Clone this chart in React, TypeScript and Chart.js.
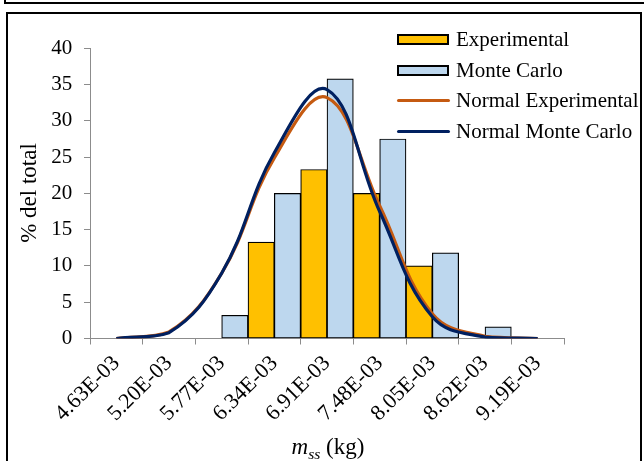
import React, { useEffect, useRef } from 'react';
import { Chart, registerables } from 'chart.js';

Chart.register(...registerables);

const categories = ['4.63E-03', '5.20E-03', '5.77E-03', '6.34E-03', '6.91E-03', '7.48E-03', '8.05E-03', '8.62E-03', '9.19E-03'];
const experimental = [0, 0, 0, 13.3, 23.3, 20, 10, 0, 0];
const monteCarlo = [0, 0, 3.2, 20, 35.8, 27.5, 11.8, 1.6, 0];
const normalExperimental = [0, 0.9, 9.0, 24.9, 33.2, 18.3, 3.4, 0.3, 0];
const normalMonteCarlo = [0, 0.8, 9.0, 25.6, 34.3, 17.5, 3.0, 0.2, 0];
const yMin = 0;
const yMax = 40;
const yStep = 5;

const legendItems = [
  { label: 'Experimental', kind: 'box', color: '#FFC000' },
  { label: 'Monte Carlo', kind: 'box', color: '#BDD7EE' },
  { label: 'Normal Experimental', kind: 'line', color: '#C55A11' },
  { label: 'Normal Monte Carlo', kind: 'line', color: '#002060' },
];

const FONT = '"Liberation Serif", "Times New Roman", serif';

export default function App() {
  const canvasRef = useRef<HTMLCanvasElement | null>(null);

  useEffect(() => {
    document.body.style.margin = '0';
    const canvas = canvasRef.current;
    if (!canvas) return;
    const chart = new Chart(canvas, {
      type: 'bar',
      data: {
        labels: categories,
        datasets: [
          {
            type: 'line',
            label: 'Normal Monte Carlo',
            data: normalMonteCarlo,
            borderColor: '#002060',
            borderWidth: 3.2,
            pointRadius: 0,
            tension: 0.4,
            fill: false,
            order: 0,
          } as any,
          {
            type: 'line',
            label: 'Normal Experimental',
            data: normalExperimental,
            borderColor: '#C55A11',
            borderWidth: 3.2,
            pointRadius: 0,
            tension: 0.4,
            fill: false,
            order: 1,
          } as any,
          {
            type: 'bar',
            label: 'Experimental',
            data: experimental,
            backgroundColor: '#FFC000',
            borderColor: '#000000',
            borderWidth: 1.2,
            borderSkipped: false,
            barPercentage: 1,
            categoryPercentage: 1,
            order: 2,
          } as any,
          {
            type: 'bar',
            label: 'Monte Carlo',
            data: monteCarlo,
            backgroundColor: '#BDD7EE',
            borderColor: '#000000',
            borderWidth: 1.2,
            borderSkipped: false,
            barPercentage: 1,
            categoryPercentage: 1,
            order: 2,
          } as any,
        ],
      },
      options: {
        responsive: false,
        animation: false,
        events: [],
        layout: { padding: { left: 0, right: 80, top: 48.3, bottom: 0 } },
        plugins: {
          legend: { display: false },
          tooltip: { enabled: false },
          title: { display: false },
        },
        scales: {
          x: {
            offset: true,
            grid: {
              offset: true,
              drawOnChartArea: false,
              drawTicks: true,
              tickLength: 6,
              color: '#8c8c8c',
            },
            border: { display: true, color: '#8c8c8c', width: 1 },
            ticks: {
              color: '#000',
              font: { family: FONT, size: 22 },
              maxRotation: 45,
              minRotation: 45,
              autoSkip: false,
              padding: 6,
            },
            afterFit: (s: any) => {
              s.height = 122.5;
            },
          },
          y: {
            min: yMin,
            max: yMax,
            grid: {
              drawOnChartArea: false,
              drawTicks: true,
              tickLength: 6,
              color: '#8c8c8c',
            },
            border: { display: true, color: '#8c8c8c', width: 1 },
            ticks: {
              stepSize: yStep,
              color: '#000',
              font: { family: FONT, size: 21 },
              padding: 11.7,
            },
            afterFit: (s: any) => {
              s.width = 90;
            },
          },
        },
      },
    });
    return () => {
      chart.destroy();
    };
  }, []);

  const rowBaselines = [46.7, 77.2, 107.7, 138.2];

  return (
    <div style={{ position: 'relative', width: 644, height: 461, overflow: 'hidden', background: '#fff', fontFamily: FONT }}>
      <canvas ref={canvasRef} width={644} height={461} style={{ position: 'absolute', left: 0, top: 0, width: 644, height: 461 }} />
      <div style={{ position: 'absolute', left: 4, top: -10, width: 660, height: 14, border: '2px solid #000', boxSizing: 'border-box', pointerEvents: 'none' }} />
      <div style={{ position: 'absolute', left: 6, top: 12, width: 636, height: 480, border: '2px solid #000', boxSizing: 'border-box', pointerEvents: 'none' }} />
      {legendItems.map((it, i) => {
        const base = rowBaselines[i];
        const mid = base - 7;
        return (
          <React.Fragment key={it.label}>
            {it.kind === 'box' ? (
              <div style={{ position: 'absolute', left: 397, top: mid - 5.5, width: 52, height: 11, background: it.color, border: '2px solid #000', boxSizing: 'border-box' }} />
            ) : (
              <div style={{ position: 'absolute', left: 397, top: mid - 1.6, width: 53, height: 3.2, background: it.color, borderRadius: 2 }} />
            )}
            <div style={{ position: 'absolute', left: 456, top: base - 17.6, fontSize: 21, lineHeight: '21px', whiteSpace: 'nowrap', color: '#000' }}>
              {it.label}
            </div>
          </React.Fragment>
        );
      })}
      <div style={{ position: 'absolute', left: 29 - 80, top: 193 - 12, width: 160, height: 24, lineHeight: '24px', fontSize: 23, textAlign: 'center', transform: 'rotate(-90deg)', whiteSpace: 'nowrap', color: '#000' }}>
        % del total
      </div>
      <div style={{ position: 'absolute', left: 328 - 100, top: 435, width: 200, lineHeight: '24px', fontSize: 23, textAlign: 'center', whiteSpace: 'nowrap', color: '#000' }}>
        <i>m</i><sub style={{ fontSize: '0.68em', verticalAlign: '-0.3em' }}><i>ss</i></sub> (kg)
      </div>
    </div>
  );
}
